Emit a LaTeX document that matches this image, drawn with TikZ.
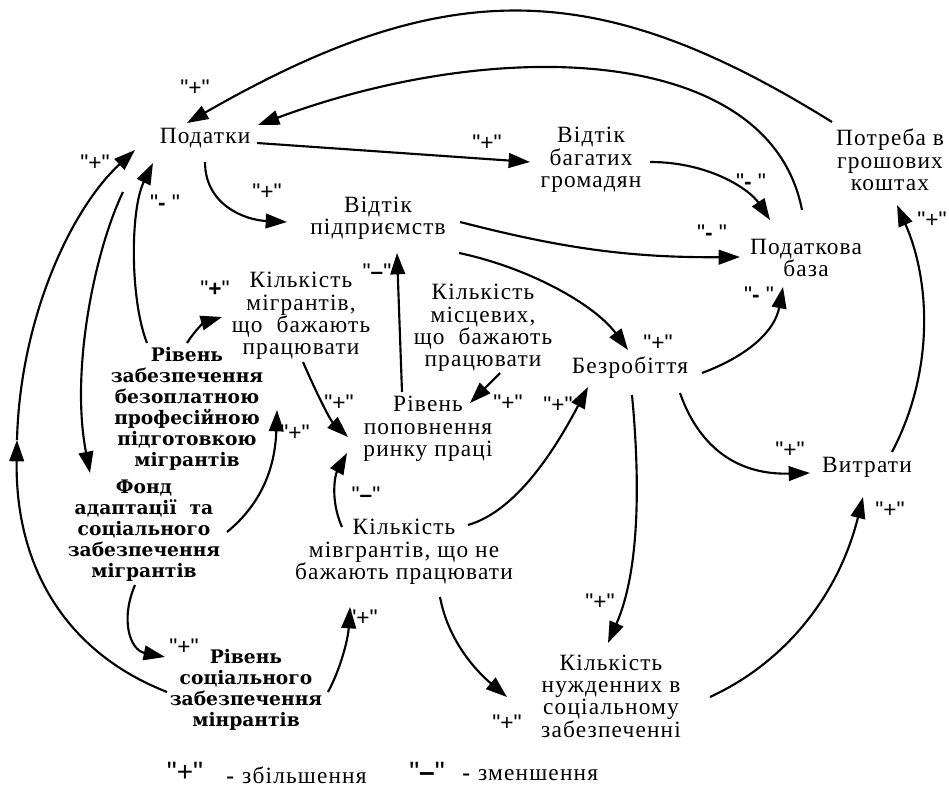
\documentclass[tikz,border=0pt]{standalone}
\usepackage{fontspec}
\setmainfont{Liberation Serif}[LetterSpace=5]
\newfontfamily\bfam{DejaVu Serif}
\newfontfamily\labfont{Liberation Sans}
\usetikzlibrary{arrows.meta}
\tikzset{
  txt/.style={inner sep=0pt, align=center, font=\fontsize{17.5}{16.8}\selectfont},
  bld/.style={inner sep=0pt, align=center, font=\bfam\bfseries\fontsize{14}{15.75}\selectfont},
  lab/.style={inner sep=0pt, font=\labfont\fontsize{17}{17}\selectfont},
  leg/.style={inner sep=0pt, font=\labfont\fontsize{21}{21}\selectfont},
  arr/.style={line width=1.6pt, -{Triangle[length=16pt,width=11pt]}}
}
\begin{document}
\begin{tikzpicture}[x=0.75pt,y=-0.75pt]
\useasboundingbox (0,0) rectangle (949,792);
% nodes
\node[txt] (tax) at (205,138) {Податки};
\node[txt] (vp) at (378,218) {Відтік\\підприємств};
\node[txt] (vb) at (591,160) {Відтік\\багатих\\громадян};
\node[txt] (pg) at (890,160) {Потреба в\\грошових\\коштах};
\node[txt] (pb) at (806,258) {Податкова\\база};
\node[txt] (km) at (301,316) {Кількість\\мігрантів,\\що~ бажають\\працювати};
\node[txt] (kl) at (483,328) {Кількість\\місцевих,\\що~ бажають\\працювати};
\node[txt] (bz) at (630,368) {Безробіття};
\node[txt] (rp) at (428,429) {Рівень\\поповнення\\ринку праці};
\node[bld] (rz) at (187,409) {Рівень\\забезпечення\\безоплатною\\професійною\\підготовкою\\мігрантів};
\node[bld] (fa) at (144,531) {Фонд\\адаптації~ та\\соціального\\забезпечення\\мігрантів};
\node[txt] (kn) at (404,552) {Кількість\\мівгрантів, що не\\бажають працювати};
\node[txt] (vt) at (867,467) {Витрати};
\node[bld] (rs) at (246,690) {Рівень\\соціального\\забезпечення\\мінрантів};
\node[txt] (kz) at (611,696) {Кількість\\нужденних в\\соціальному\\забезпеченні};
\coordinate (mid) at (17,440);
% connectors
\draw[arr] ([shift={(-58,-38)}]pg.center) .. controls +(-233,-145) and +(261,-150) .. ([shift={(-18,-15)}]tax.center);
\draw[arr] ([shift={(-4,-48)}]pb.center) .. controls +(-32,-165) and +(242,-90) .. ([shift={(53,-13)}]tax.center);
\draw[arr] ([shift={(52,5)}]tax.center) -- ([shift={(-61,2)}]vb.center);
\draw[arr] ([shift={(0,24)}]tax.center) .. controls +(0,43) and +(-42,-2) .. ([shift={(-91,4)}]vp.center);
\draw[arr] ([shift={(59,2)}]vb.center) .. controls +(60,0) and +(-20,-30) .. ([shift={(-36,-38)}]pb.center);
\draw[arr] ([shift={(82,4)}]vp.center) .. controls +(90,23) and +(-120,1) .. ([shift={(-66,-1)}]pb.center);
\draw[arr] ([shift={(81,35)}]vp.center) .. controls +(71,15) and +(-33,-45) .. ([shift={(-2,-18)}]bz.center);
\draw[arr] ([shift={(72,5)}]bz.center) .. controls +(48,-18) and +(-8,43) .. ([shift={(-23,29)}]pb.center);
\draw[arr] ([shift={(50,25)}]bz.center) .. controls +(20,57) and +(-70,2) .. ([shift={(-57,6)}]vt.center);
\draw[arr] ([shift={(2,27)}]bz.center) .. controls +(8,85) and +(32,-73) .. ([shift={(-3,-53)}]kz.center);
\draw[arr] ([shift={(25,-15)}]vt.center) .. controls +(43,-82) and +(33,75) .. ([shift={(7,45)}]pg.center);
\draw[arr] ([shift={(99,1)}]kz.center) .. controls +(80,-37) and +(-23,93) .. ([shift={(-4,30)}]vt.center);
\draw[arr] ([shift={(36,45)}]kn.center) .. controls +(8,43) and +(-32,-27) .. ([shift={(-104,1)}]kz.center);
\draw[arr] ([shift={(64,-27)}]kn.center) .. controls +(52,-15) and +(-28,53) .. ([shift={(-42,19)}]bz.center);
\draw[arr] ([shift={(-62,-25)}]kn.center) .. controls +(-12,-27) and +(-12,22) .. ([shift={(-81,24)}]rp.center);
\draw[arr] ([shift={(2,46)}]km.center) .. controls +(12,28) and +(-18,-17) .. ([shift={(-80,8)}]rp.center);
\draw[arr] ([shift={(17,45)}]kl.center) -- ([shift={(42,-26)}]rp.center);
\draw[arr] ([shift={(-26,-37)}]rp.center) -- ([shift={(19,35)}]vp.center);
\draw[arr] ([shift={(-40,-66)}]rz.center) .. controls +(-17,-43) and +(-23,47) .. ([shift={(-52,25)}]tax.center);
\draw[arr] ([shift={(0,-66)}]rz.center) .. controls +(8,-13) and +(-17,5) .. ([shift={(-79,1)}]km.center);
\draw[arr] ([shift={(83,1)}]fa.center) .. controls +(33,-27) and +(-2,60) .. ([shift={(90,1)}]rz.center);
\draw[arr] ([shift={(-82,54)}]tax.center) .. controls +(-28,58) and +(-20,-103) .. ([shift={(-54,-58)}]fa.center);
\draw[arr] ([shift={(-79,2)}]rs.center) .. controls +(-107,-42) and +(-2,120) .. (mid);
\draw[arr] (mid) .. controls +(3,-120) and +(-65,60) .. ([shift={(-70,12)}]tax.center);
\draw[arr] ([shift={(-9,54)}]fa.center) .. controls +(-15,35) and +(-35,-7) .. ([shift={(-81,-33)}]rs.center);
\draw[arr] ([shift={(82,2)}]rs.center) .. controls +(12,-22) and +(-2,33) .. ([shift={(-54,55)}]kn.center);
% labels
\node[lab] (l1) at (195,88) {"+"};
\node[lab] (l3) at (487,143) {"+"};
\node[lab] (l4) at (267,192) {"+"};
\node[lab] (l5) at (751,182) {"\textbf{-} "};
\node[lab] (l6) at (712,233) {"\textbf{-} "};
\node[lab] (l7) at (658,343) {"+"};
\node[lab] (l8) at (759,295) {"\textbf{-} "};
\node[lab] (l9) at (790,450) {"+"};
\node[lab] (l10) at (600,602) {"+"};
\node[lab] (l11) at (932,220) {"+"};
\node[lab] (l12) at (890,510) {"+"};
\node[lab] (l13) at (507,723) {"+"};
\node[lab] (l14) at (558,405) {"+"};
\node[lab] (l15) at (366,495) {"\textbf{–}"};
\node[lab] (l16) at (339,403) {"+"};
\node[lab] (l17) at (508,403) {"+"};
\node[lab] (l18) at (377,272) {"\textbf{–}"};
\node[lab] (l19) at (165,203) {"\textbf{-} "};
\node[lab] (l20) at (215,289) {"\textbf{+}"};
\node[lab] (l21) at (295,433) {"+"};
\node[lab] (l23) at (95,163) {"+"};
\node[lab] (l24) at (184,647) {"+"};
\node[lab] (l25) at (363,618) {"+"};
% legend
\node[leg] (lg1) at (185,772) {"+"};
\node[txt, anchor=west] (lg2) at (226,775) {\textbf{-} збільшення};
\node[leg] (lg3) at (427,772) {"\textbf{–}"};
\node[txt, anchor=west] (lg4) at (462,775) {\textbf{-} зменшення};
\end{tikzpicture}
\end{document}
